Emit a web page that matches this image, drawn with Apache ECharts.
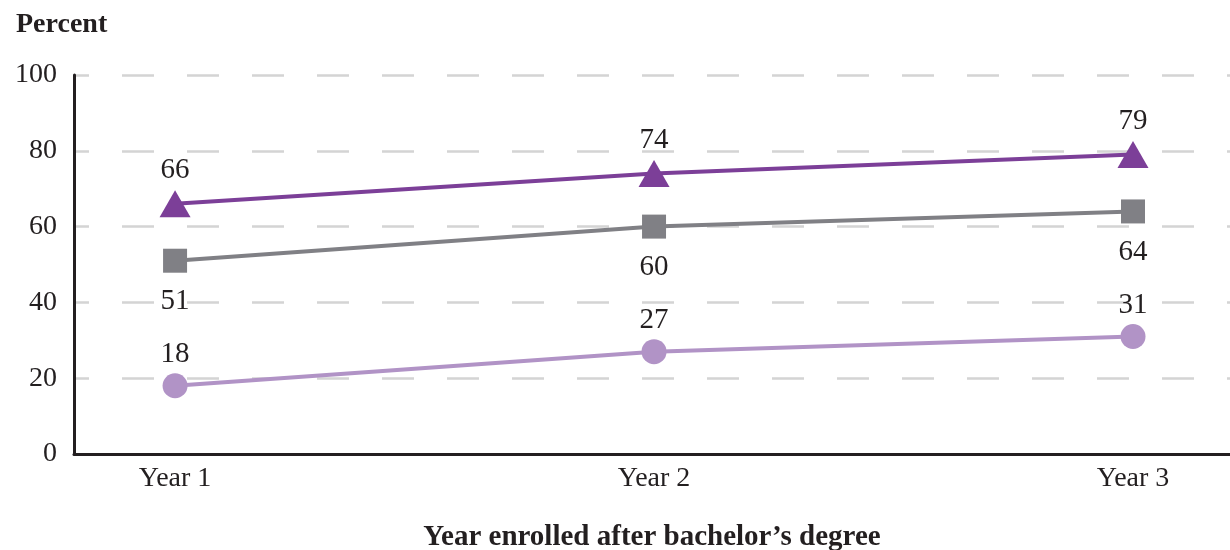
<!DOCTYPE html>
<html>
<head>
<meta charset="utf-8">
<script src="https://cdn.jsdelivr.net/npm/echarts@6/dist/echarts.min.js"></script>
<style>
  html, body { margin: 0; padding: 0; background: #fff; }
  #chart { width: 1230px; height: 550px; }
</style>
</head>
<body>
<div id="chart"></div>
<script>
// Share of students enrolled, by year after the bachelor's degree
const categories = ['Year 1', 'Year 2', 'Year 3'];
const seriesTop = [66, 74, 79];     // dark purple, triangles
const seriesMid = [51, 60, 64];     // gray, squares
const seriesLow = [18, 27, 31];     // light purple, circles
const yTicks = [0, 20, 40, 60, 80, 100];

const serif = '"Liberation Serif", "DejaVu Serif", serif';
const textColor = '#231f20';

const toPoints = arr => arr.map((v, i) => [i, v]);

const labelStyle = (position, dist) => ({
  show: true,
  position: position,
  distance: dist,
  fontFamily: serif,
  fontSize: 29,
  color: textColor
});

const chart = echarts.init(document.getElementById('chart'), null, { renderer: 'canvas' });

chart.setOption({
  animation: false,
  backgroundColor: '#ffffff',
  title: {
    text: 'Percent',
    left: 11,
    top: 6,
    textStyle: { fontFamily: serif, fontWeight: 'bold', fontSize: 28, color: textColor }
  },
  grid: { left: 74, right: 0, top: 75, bottom: 96, containLabel: false, outerBoundsMode: 'none' },
  xAxis: {
    type: 'value',
    min: -0.211,
    max: 2.2025,
    name: 'Year enrolled after bachelor\u2019s degree',
    nameLocation: 'middle',
    nameGap: 69,
    nameTextStyle: { fontFamily: serif, fontWeight: 'bold', fontSize: 29, color: textColor },
    axisLine: { show: true, onZero: false, lineStyle: { color: textColor, width: 3 } },
    axisTick: { show: false },
    splitLine: { show: false },
    axisLabel: {
      customValues: categories.map((c, i) => i),
      formatter: v => categories[Math.round(v)] || '',
      fontFamily: serif,
      fontSize: 28,
      color: textColor,
      margin: 11
    }
  },
  yAxis: {
    type: 'value',
    min: yTicks[0],
    max: yTicks[yTicks.length - 1],
    interval: 20,
    axisLine: { show: true, onZero: false, lineStyle: { color: textColor, width: 3 } },
    axisTick: { show: false },
    axisLabel: { fontFamily: serif, fontSize: 28, color: textColor, margin: 17 },
    splitLine: {
      show: true,
      lineStyle: { color: '#d4d4d4', width: 2.5, type: [32, 33], dashOffset: 17 }
    }
  },
  series: [
    {
      type: 'line',
      data: toPoints(seriesLow),
      symbol: 'circle',
      symbolSize: 25,
      lineStyle: { color: '#b193c6', width: 4 },
      itemStyle: { color: '#b193c6' },
      label: labelStyle('top', 4),
      z: 2
    },
    {
      type: 'line',
      data: toPoints(seriesMid),
      symbol: 'rect',
      symbolSize: 24,
      lineStyle: { color: '#808085', width: 4 },
      itemStyle: { color: '#808085' },
      label: labelStyle('bottom', 14),
      z: 3
    },
    {
      type: 'line',
      data: toPoints(seriesTop),
      symbol: 'triangle',
      symbolSize: [31, 27],
      lineStyle: { color: '#7c3f98', width: 4 },
      itemStyle: { color: '#7c3f98' },
      label: labelStyle('top', 5),
      z: 4
    }
  ]
});
</script>
</body>
</html>
